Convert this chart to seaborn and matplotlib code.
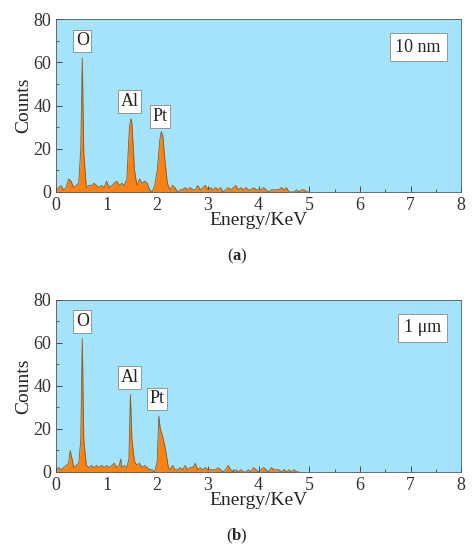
import matplotlib
matplotlib.use("Agg")
import matplotlib.pyplot as plt
import seaborn as sns
import pandas as pd

sns.set_style("ticks")
plt.rcParams['font.family'] = ['Liberation Serif', 'DejaVu Serif']
plt.rcParams['mathtext.fontset'] = 'custom'
plt.rcParams['mathtext.bf'] = 'Liberation Serif:bold'
plt.rcParams['mathtext.rm'] = 'Liberation Serif'

energy_a = [0,0.05,0.1,0.15,0.2,0.25,0.3,0.35,0.4,0.45,
            0.49,0.52,0.55,0.6,0.65,0.7,0.75,0.8,0.85,0.9,
            0.95,1.0,1.05,1.1,1.15,1.2,1.25,1.3,1.35,1.4,
            1.45,1.48,1.5,1.55,1.6,1.65,1.7,1.75,1.8,1.85,
            1.9,1.95,2.0,2.05,2.08,2.11,2.15,2.2,2.25,2.3,
            2.35,2.4,2.45,2.5,2.55,2.6,2.65,2.7,2.75,2.8,
            2.85,2.9,2.95,3.0,3.05,3.1,3.15,3.2,3.25,3.3,
            3.35,3.4,3.45,3.5,3.55,3.6,3.65,3.7,3.75,3.8,
            3.85,3.9,3.95,4.0,4.05,4.1,4.15,4.2,4.25,4.3,
            4.35,4.4,4.45,4.5,4.55,4.6,4.65,4.7,4.75,4.8,
            4.85,4.9,4.95,5.0]
counts_a = [0,2,3,1,2,6,5,2,3,4,
            20,62,18,2,3,3,4,3,2,3,
            2,5,2,3,4,5,3,4,3,6,
            30,34,32,10,3,6,4,5,4,1,
            0,3,10,24,28,26,15,4,1,3,
            2,0,1,1,2,1,2,1,1,3,
            1,2,3,1,2,1,2,1,2,0,
            1,2,1,2,3,1,2,1,2,1,
            1,2,1,1,1,2,1,0,1,1,
            1,1,2,1,2,0,0,0,1,0,
            1,1,0,0]

energy_b = [0,0.05,0.1,0.15,0.2,0.25,0.28,0.32,0.35,0.4,
            0.45,0.49,0.52,0.55,0.6,0.65,0.7,0.75,0.8,0.85,
            0.9,0.95,1.0,1.05,1.1,1.15,1.2,1.25,1.28,1.3,
            1.35,1.4,1.44,1.47,1.5,1.55,1.6,1.65,1.7,1.75,
            1.8,1.85,1.9,1.95,2.0,2.03,2.06,2.1,2.15,2.18,
            2.22,2.25,2.3,2.35,2.4,2.45,2.5,2.55,2.6,2.65,
            2.7,2.75,2.8,2.85,2.9,2.95,3.0,3.05,3.1,3.15,
            3.2,3.25,3.3,3.35,3.4,3.45,3.5,3.55,3.6,3.65,
            3.7,3.75,3.8,3.85,3.9,3.95,4.0,4.05,4.1,4.15,
            4.2,4.25,4.3,4.35,4.4,4.45,4.5,4.55,4.6,4.65,
            4.7,4.75,4.8]
counts_b = [0,2,1,2,3,4,10,6,2,3,
            4,15,62,15,3,2,3,2,3,2,
            3,2,3,2,3,4,2,3,6,2,
            3,2,6,36,15,5,3,4,2,3,
            2,1,1,0,5,26,20,17,12,8,
            2,1,3,1,1,2,1,3,1,2,
            2,4,1,2,1,2,1,1,1,1,
            2,1,0,1,3,1,0,1,0,1,
            0,0,1,0,2,1,0,1,2,1,
            0,2,1,1,1,0,1,0,1,0,
            1,0,0]

panels = [
    (energy_a, counts_a, "10 nm", "a", [0.118, 0.651, 0.855, 0.314]),
    (energy_b, counts_b, "1 μm", "b", [0.118, 0.142, 0.855, 0.313]),
]
peak_labels_a = [("O", 0.52, 66), ("Al", 1.45, 38), ("Pt", 2.05, 31)]
peak_labels_b = [("O", 0.52, 66), ("Al", 1.45, 40), ("Pt", 2.0, 30)]

fig = plt.figure(figsize=(4.74, 5.5), dpi=100)
for i, (e, c, tag, sub, pos) in enumerate(panels):
    ax = fig.add_axes(pos)
    ax.set_facecolor("#a3e4fa")
    df = pd.DataFrame({"Energy": e, "Counts": c})
    ax.fill_between(df["Energy"], df["Counts"], color="#fb8211", lw=0)
    sns.lineplot(data=df, x="Energy", y="Counts", ax=ax, color="#7a5a3a", lw=0.6)
    ax.set_xlim(0, 8)
    ax.set_ylim(0, 80)
    ax.set_xticks(range(0, 9))
    ax.set_yticks([0, 20, 40, 60, 80])
    ax.set_xticks([x + 0.5 for x in range(8)], minor=True)
    ax.set_yticks([10, 30, 50, 70], minor=True)
    ax.tick_params(direction="in", labelsize=13, length=4, width=0.6, colors="#333333")
    ax.tick_params(which="minor", direction="in", length=2, width=0.5)
    for s in ax.spines.values():
        s.set_linewidth(0.6)
        s.set_color("#555555")
    ax.set_xlabel("Energy/KeV", fontsize=14, labelpad=-1)
    ax.set_ylabel("Counts", fontsize=14, labelpad=1)
    labs = peak_labels_a if i == 0 else peak_labels_b
    for name, x, y in labs:
        ax.text(x, y, name, ha="center", va="bottom", fontsize=13,
                bbox=dict(facecolor="white", edgecolor="#888888", lw=0.6, pad=2))
    ax.text(7.6, 67, tag, ha="right", va="center", fontsize=13,
            bbox=dict(facecolor="white", edgecolor="#888888", lw=0.6, pad=4))
    fig.text(0.5, pos[1] - 0.125, "(" + r"$\mathbf{" + sub + "}$" + ")", ha="center", fontsize=12)

fig.savefig("out.png", dpi=100)
